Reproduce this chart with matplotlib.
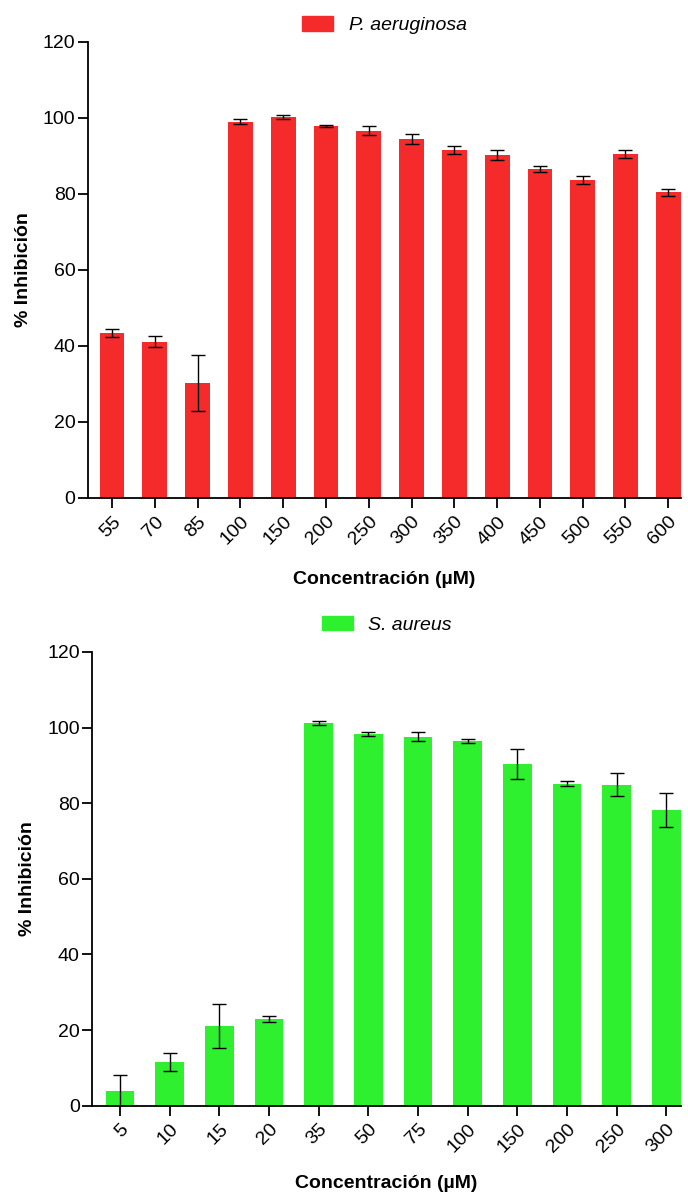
import numpy as np
import matplotlib.pyplot as plt
from matplotlib.patches import Patch

plt.rcParams['font.family'] = ['Liberation Sans Narrow', 'Liberation Sans', 'DejaVu Sans']

# P. aeruginosa
pa_conc = ['55', '70', '85', '100', '150', '200', '250', '300', '350', '400',
           '450', '500', '550', '600']
pa_mean = [43.4, 41.1, 30.2, 99.0, 100.2, 97.9, 96.6, 94.4, 91.6, 90.2,
           86.6, 83.6, 90.4, 80.4]
pa_err = [1.0, 1.5, 7.3, 0.6, 0.6, 0.3, 1.2, 1.4, 1.0, 1.3,
          0.8, 1.0, 1.0, 0.9]

# S. aureus
sa_conc = ['5', '10', '15', '20', '35', '50', '75', '100', '150', '200',
           '250', '300']
sa_mean = [3.8, 11.6, 21.1, 22.9, 101.1, 98.3, 97.6, 96.5, 90.3, 85.2,
           84.9, 78.3]
sa_err = [4.4, 2.4, 5.8, 0.7, 0.5, 0.6, 1.2, 0.5, 4.0, 0.7, 3.1, 4.5]

red = '#F52B2B'
green = '#2FF02F'

fig = plt.figure(figsize=(6.88, 11.94), dpi=100)
ax1 = fig.add_axes([0.128, 0.583, 0.862, 0.382])
ax2 = fig.add_axes([0.134, 0.074, 0.856, 0.380])


def draw(ax, conc, mean, err, color, name, leg_y, xpad):
    x = np.arange(len(conc))
    ax.bar(x, mean, width=0.58, color=color, zorder=2)
    ax.errorbar(x, mean, yerr=err, fmt='none', ecolor='black', elinewidth=1.0,
                capsize=5, capthick=1.0, zorder=3)
    ax.set_xlim(-0.56, len(conc) - 0.7)
    ax.set_ylim(0, 120)
    ax.set_yticks(range(0, 121, 20))
    ax.set_xticks(x)
    ax.set_xticklabels(conc, rotation=45, ha='right', rotation_mode='anchor')
    for s in ['top', 'right']:
        ax.spines[s].set_visible(False)
    for s in ['left', 'bottom']:
        ax.spines[s].set_linewidth(1.3)
    ax.tick_params(axis='both', direction='out', length=7, width=1.3,
                   labelsize=14, pad=2)
    ax.tick_params(axis='x', pad=4)
    ax.set_xlabel('Concentración (µM)', fontsize=14, fontweight='bold',
                  labelpad=xpad)
    ax.set_ylabel('% Inhibición', fontsize=14, fontweight='bold', labelpad=8)
    ax.legend(handles=[Patch(color=color, label=name)], loc='center',
              bbox_to_anchor=(0.5, leg_y), frameon=False,
              prop={'style': 'italic', 'size': 14}, handlelength=1.6,
              handleheight=0.8)


draw(ax1, pa_conc, pa_mean, pa_err, red, 'P. aeruginosa', 1.037, 16)
draw(ax2, sa_conc, sa_mean, sa_err, green, 'S. aureus', 1.06, 14)

fig.savefig('out.png', dpi=100)
